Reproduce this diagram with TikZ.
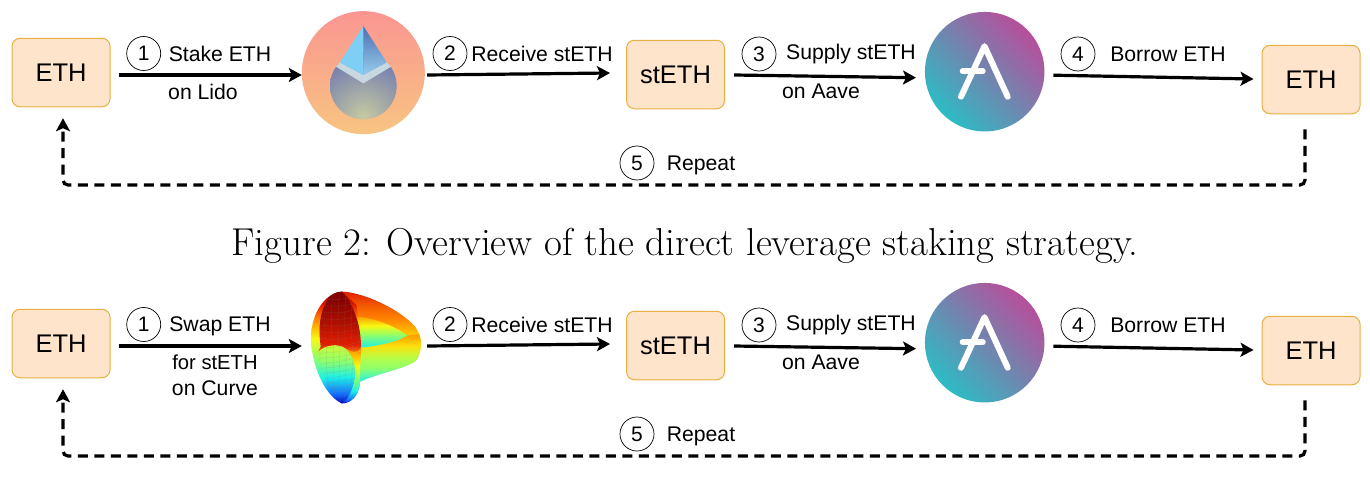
\documentclass[tikz,border=0pt]{standalone}
\usepackage{fontspec}
\setsansfont{Liberation Sans}
\usetikzlibrary{arrows.meta,calc}
\definecolor{boxfill}{RGB}{255,228,204}
\definecolor{boxline}{RGB}{232,176,64}
\definecolor{jA}{RGB}{125,0,0}
\definecolor{jB}{RGB}{225,30,0}
\definecolor{jC}{RGB}{255,130,0}
\definecolor{jD}{RGB}{255,190,0}
\definecolor{jE}{RGB}{245,250,20}
\definecolor{jF}{RGB}{140,255,110}
\definecolor{jG}{RGB}{30,240,230}
\definecolor{jH}{RGB}{20,110,255}
\definecolor{jI}{RGB}{0,0,200}
\definecolor{lidoA}{RGB}{250,150,145}
\definecolor{lidoB}{RGB}{248,196,130}
\definecolor{dropA}{RGB}{198,202,160}
\definecolor{dropB}{RGB}{116,126,176}
\definecolor{aaveA}{RGB}{44,188,196}
\definecolor{aaveB}{RGB}{184,78,154}
\pgfdeclareverticalshading{curvejet}{100bp}{color(0bp)=(jI);color(25bp)=(jI);color(29bp)=(jH);color(36.2bp)=(jG);color(45bp)=(jF);color(54bp)=(jE);color(58.6bp)=(jD);color(63bp)=(jC);color(69bp)=(jB);color(75bp)=(jA);color(100bp)=(jA)}
\pgfdeclareverticalshading{curvering}{100bp}{color(0bp)=(jE);color(25bp)=(jE);color(39.7bp)=(jD);color(51.5bp)=(jC);color(63bp)=(jB!40!jC);color(75bp)=(jB);color(100bp)=(jB)}
\pgfdeclareverticalshading{curvehole}{100bp}{color(0bp)=(jG);color(25bp)=(jG);color(45bp)=(jF);color(60bp)=(jE);color(75bp)=(jD!50!jC);color(100bp)=(jC)}
\pgfdeclareverticalshading{curvefront}{100bp}{color(0bp)=(jG);color(25bp)=(jG);color(39bp)=(jF);color(50bp)=(jE!40!jF);color(62.5bp)=(jE!60!jD);color(75bp)=(jD!40!jC);color(100bp)=(jC)}
\pgfdeclareverticalshading{curvefold}{100bp}{color(0bp)=(jI);color(25bp)=(jI);color(28bp)=(jH);color(36bp)=(jG);color(47bp)=(jF);color(58bp)=(jE);color(67bp)=(jD);color(75bp)=(jC);color(100bp)=(jC)}
\pgfdeclareverticalshading{curvelobe}{100bp}{color(0bp)=(jI);color(25bp)=(jI);color(33bp)=(jH);color(47bp)=(jG);color(60bp)=(jF);color(75bp)=(jE!70!jF);color(100bp)=(jE)}
\pgfdeclareverticalshading{curvedark}{100bp}{color(0bp)=(jC);color(25bp)=(jC);color(32bp)=(jB);color(50bp)=(jA!50!jB);color(65bp)=(jA!85!jB);color(75bp)=(jA);color(100bp)=(jA)}
\def\darkpath{(125,20) .. controls (100,20) and (82,40) .. (70,70) .. controls (58,100) and (56,140) .. (62,185) -- (55,200) .. controls (75,180) and (115,175) .. (135,190) -- (150,197) .. controls (165,205) and (178,200) .. (183,185) .. controls (183,130) and (165,60) .. (125,20) -- cycle}
\def\lobepath{(55,200) .. controls (75,180) and (115,175) .. (135,190) .. controls (155,205) and (168,240) .. (165,270) .. controls (162,305) and (145,345) .. (125,355) .. controls (95,335) and (65,280) .. (55,200) -- cycle}
\tikzset{
  x=1pt,y=-1pt,
  tokenbox/.style={draw=boxline,line width=1pt,fill=boxfill,rounded corners=8pt,inner sep=0pt,font=\sffamily\fontsize{25.5}{25.5}\selectfont},
  ethbox/.style={tokenbox,minimum width=98pt,minimum height=68.5pt},
  num/.style={circle,draw=black,line width=0.7pt,minimum size=34pt,inner sep=0pt,font=\sffamily\fontsize{21}{21}\selectfont},
  lab/.style={inner sep=0pt,font=\sffamily\fontsize{21.2}{21.2}\selectfont},
  slot/.style={circle,inner sep=0pt,minimum size=121pt},
  flow/.style={line width=3.2pt,-{Stealth[length=13pt,width=14pt,inset=3pt]}},
  loopline/.style={flow,dash pattern=on 10pt off 6.5pt,rounded corners=5pt},
  aavestroke/.style={draw=white,line width=6pt,line cap=round,line join=round},
  meshline/.style={gray,opacity=0.3,line width=0.3pt},
}
\begin{document}
\begin{tikzpicture}
\useasboundingbox (0,0) rectangle (1370,479);
\fill[white] (0,0) rectangle (1370,479);
\foreach \r/\dy/\one/\oney in {1/0/Stake ETH/53.5,2/271/Swap ETH/55.5}{
 \begin{scope}[yshift=-\dy pt]
  \node[ethbox] (ethA\r) at (61,72.5) {ETH};
  \node[ethbox] (steth\r) at (675.5,74.5) {stETH};
  \node[ethbox] (ethB\r) at (1311,79.5) {ETH};
  \node[slot] (first\r) at (363.5,72.5) {};
  \node[slot] (aave\r) at (984.7,71.7) {};
  \coordinate (loopR\r) at (1305,185);
  \coordinate (loopL\r) at (63,185);
  \draw[flow] ([xshift=8pt,yshift=-2.5pt]ethA\r.east) -- ([xshift=-1pt,yshift=-2.5pt]first\r.west);
  \draw[flow] ([xshift=3pt,yshift=-2.5pt]first\r.east) -- ([xshift=-16pt,yshift=1.5pt]steth\r.west);
  \draw[flow] ([xshift=9pt,yshift=-0.5pt]steth\r.east) -- ([xshift=-8pt,yshift=-6pt]aave\r.west);
  \draw[flow] ([xshift=8pt,yshift=-3.5pt]aave\r.east) -- ([xshift=-8pt,yshift=0.5pt]ethB\r.west);
  \draw[loopline] ([xshift=-6pt,yshift=-15pt]ethB\r.south) -- (loopR\r) -- (loopL\r) -- ([xshift=2pt,yshift=-11pt]ethA\r.south);
  \node[num] (n1\r) at (143.7,53.5) {1};
  \node[lab] (t1\r) at (220,\oney) {\one};
  \node[num] (n2\r) at (450,53.5) {2};
  \node[lab] (t2\r) at (542,53.5) {Receive stETH};
  \node[num] (n3\r) at (759,54) {3};
  \node[lab] (t3\r) at (851,54) {Supply stETH};
  \node[lab] (u3\r) at (821,91.5) {on Aave};
  \node[num] (n4\r) at (1078,54) {4};
  \node[lab] (t4\r) at (1168,54) {Borrow ETH};
  \node[num] (n5\r) at (637,163) {5};
  \node[lab] (t5\r) at (701,165.5) {Repeat};
  % Aave logo
  \node[circle,inner sep=0pt,minimum size=119.5pt,left color=aaveB,right color=aaveA,shading angle=-45] (disc\r) at (aave\r) {};
  \draw[aavestroke] ($(aave\r)+(-23.7,25)$) -- ($(aave\r)+(-0.2,-25.5)$) -- ($(aave\r)+(23,25)$);
  \draw[aavestroke] ($(aave\r)+(-22,-0.5)$) -- ($(aave\r)+(-2,-0.5)$);
 \end{scope}
}
\node[lab] (u11) at (203,91.5) {on Lido};
\node[lab,font=\sffamily\fontsize{20.2}{20.2}\selectfont] (u12a) at (215,362) {for stETH};
\node[lab] (u12b) at (215,388) {on Curve};
\node[inner sep=0pt,font=\rmfamily\fontsize{38.9}{38.9}\selectfont] (cap) at (685,246) {Figure 2: Overview of the direct leverage staking strategy.};
% Lido logo
\begin{scope}[shift={(290,0)},x=0.3333pt,y=-0.3333pt]
  \node[circle,inner sep=0pt,minimum size=123pt,top color=lidoA,bottom color=lidoB] at (220,218) {};
  \begin{scope}
    \clip (220,258) circle (100);
    \shade[inner color=dropA,outer color=dropB] (220,350) circle (175);
    \fill[dropB] (100,150) rectangle (340,176);
  \end{scope}
  \fill[fill={rgb,255:red,200;green,216;blue,224}] (138,200) -- (150,187) -- (220,225) -- (290,187) -- (303,200) -- (220,250) -- cycle;
  \fill[fill={rgb,255:red,126;green,206;blue,246}] (220,78) -- (150,187) -- (220,225) -- cycle;
  \shade[top color={rgb,255:red,76;green,110;blue,176},bottom color={rgb,255:red,150;green,204;blue,238}] (220,78) -- (290,187) -- (220,225) -- cycle;
\end{scope}
% Curve logo
\begin{scope}[shift={(300,285)},x=0.3333pt,y=-0.3333pt]
  \path[shading=curvejet] (125,20) .. controls (80,22) and (33,80) .. (33,160) .. controls (33,230) and (70,330) .. (125,355) .. controls (155,355) and (178,330) .. (180,290) .. controls (240,262) and (300,255) .. (345,230) .. controls (368,205) and (368,160) .. (345,125) .. controls (300,75) and (200,25) .. (125,20) -- cycle;
  \path[shading=curvering] (125,20) .. controls (200,25) and (300,75) .. (345,125) .. controls (358,145) and (362,155) .. (362,170) -- (183,190) -- (170,60) -- cycle;
  \path[shading=curvefront] (183,188) .. controls (240,182) and (290,170) .. (320,152) -- (358,148) .. controls (368,175) and (362,210) .. (345,230) .. controls (300,255) and (240,262) .. (180,290) -- cycle;
  \path[shading=curvehole] (170,95) .. controls (220,98) and (290,125) .. (322,152) .. controls (290,170) and (240,182) .. (183,188) .. controls (182,150) and (178,120) .. (170,95) -- cycle;
  \path[shading=curvefold] (150,197) .. controls (165,205) and (178,200) .. (183,185) -- (180,290) .. controls (178,330) and (155,355) .. (125,355) .. controls (145,345) and (162,305) .. (165,270) .. controls (168,240) and (155,205) .. (135,190) -- cycle;
  \path[shading=curvedark] \darkpath;
  \path[shading=curvelobe] \lobepath;
  \begin{scope}
    \clip \darkpath;
    \foreach \g in {35,55,...,215}{\draw[meshline] (40,\g) .. controls (90,\g+14) and (140,\g+10) .. (190,\g-8);}
    \foreach \g in {60,80,...,180}{\draw[meshline] (\g,10) .. controls (\g-8,80) and (\g-8,150) .. (\g,210);}
  \end{scope}
  \begin{scope}
    \clip \lobepath;
    \foreach \g in {180,195,...,360}{\draw[meshline] (40,\g+10) .. controls (90,\g+10) and (130,\g+5) .. (180,\g-10);}
    \foreach \g in {60,80,...,180}{\draw[meshline] (\g,170) .. controls (\g,240) and (\g-5,300) .. (\g*0.4+75,365);}
  \end{scope}
\end{scope}
\end{tikzpicture}
\end{document}
